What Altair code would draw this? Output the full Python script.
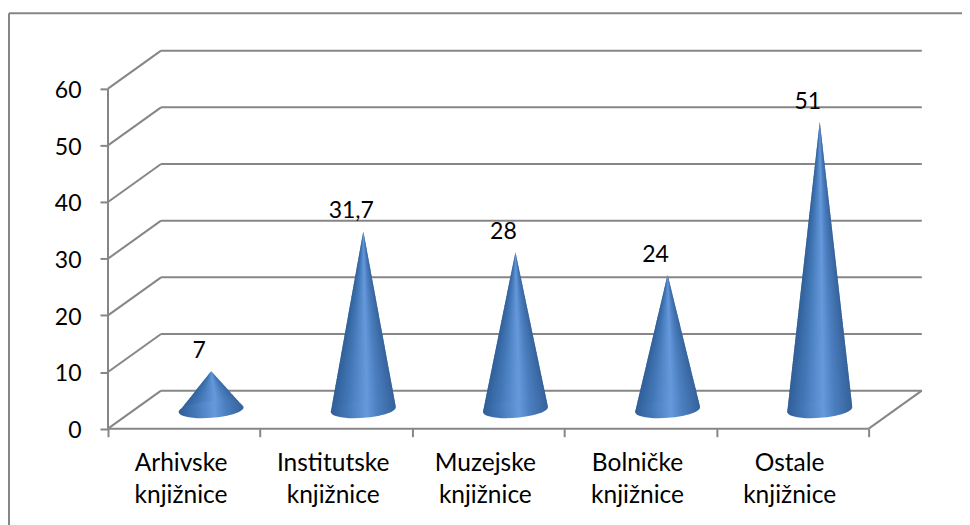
import altair as alt
import pandas as pd

categories = ["Arhivske\nknjižnice", "Institutske\nknjižnice", "Muzejske\nknjižnice", "Bolničke\nknjižnice", "Ostale\nknjižnice"]
values = [7, 31.7, 28, 24, 51]
value_labels = ["7", "31,7", "28", "24", "51"]
y_ticks = [0, 10, 20, 30, 40, 50, 60]
x_ticks = [0, 1, 2, 3, 4, 5]

# the page fits a 962-unit wide svg into 954 px: all pixel sizes are scaled by K
K = 962 / 954

# pseudo-3D geometry expressed in axis units
PX_X = 152.0
PX_Y = 340 / 60
DEPTH_X = 53 / PX_X
DEPTH_Y = 38 / PX_Y
X_MAX = 5 + DEPTH_X
Y_MAX = 378.5 / PX_Y
CONE_X = 0.678
CONE_HALF = 32.5 / PX_X
TIP_LIFT = 3.16
BASE_LIFT = 3.35
LEFT_CORNER = 2.91
RIGHT_CORNER = 3.79
SLICE_PX = 1.5

shade_o = [0, 0.25, 0.55, 0.72, 1]
shade_c = ["#305e97", "#4278b8", "#6699dc", "#4c7fc0", "#34619a"]
GRAY = "#868686"
FONT = "Lato"
fill_grad = alt.LinearGradient(
    gradient="linear", x1=0, x2=1, y1=0, y2=0,
    stops=[alt.GradientStop(offset=o, color=c) for o, c in zip(shade_o, shade_c)],
)


def right_edge(tip, lvl):
    if lvl >= RIGHT_CORNER:
        return CONE_HALF * (tip - lvl) / (tip - RIGHT_CORNER)
    return CONE_HALF * (1 - 0.5 * (RIGHT_CORNER - lvl) / (RIGHT_CORNER - LEFT_CORNER))


rows = []
for i, v in enumerate(values):
    xc = i + CONE_X
    tip = v + TIP_LIFT
    n = int((tip - LEFT_CORNER) * PX_Y / SLICE_PX)
    step = (tip - LEFT_CORNER) / n
    for k in range(n):
        top = tip - k * step
        bottom = max(LEFT_CORNER, top - step - 1 / PX_Y)
        for lvl in (top, bottom):
            rows.append(dict(
                key=f"{i}-{k:04d}", y=lvl,
                xl=xc - CONE_HALF * (tip - lvl) / (tip - LEFT_CORNER),
                xr=xc + right_edge(tip, lvl),
            ))
slices = pd.DataFrame(rows)

cones = pd.DataFrame({
    "xc": [i + CONE_X for i in range(5)],
    "base": [BASE_LIFT] * 5,
    "tip": [v + TIP_LIFT for v in values],
    "lx": [i + CONE_X - 12 / PX_X for i in range(5)],
    "label": value_labels,
    "cat": categories,
    "cx": [i + 0.48 for i in range(5)],
})

xs = alt.Scale(domain=[0, X_MAX], nice=False, zero=False)
ys = alt.Scale(domain=[0, Y_MAX], nice=False, zero=False)

back = pd.DataFrame({"y": [v + DEPTH_Y for v in y_ticks], "x": [DEPTH_X] * 7, "x2": [X_MAX] * 7})
back["y2"] = back["y"]
diag = pd.DataFrame({"x": [0] * 7, "x2": [DEPTH_X] * 7, "y": y_ticks, "y2": [v + DEPTH_Y for v in y_ticks]})
edge = pd.DataFrame({"x": [5, 0, 0], "x2": [X_MAX, 5, 0], "y": [0, 0, 0], "y2": [DEPTH_Y, 0, 60]})

rule = dict(color=GRAY, strokeWidth=2 * K)

axes = alt.Chart(pd.DataFrame({"x": x_ticks, "y": [0] * 6})).mark_point(opacity=0).encode(
    x=alt.X("x:Q", scale=xs, title=None,
            axis=alt.Axis(values=x_ticks, labels=False, domain=False, grid=False, tickSize=8 * K,
                          tickWidth=2 * K, tickColor=GRAY)),
    y=alt.Y("y:Q", scale=ys, title=None,
            axis=alt.Axis(values=y_ticks, domain=False, grid=False, tickSize=8 * K, tickWidth=2 * K,
                          tickColor=GRAY, labelFont=FONT, labelFontSize=23 * K, labelColor="black",
                          labelPadding=19 * K, labelOffset=2)),
)


def rules(df):
    return alt.Chart(df).mark_rule(**rule).encode(
        x=alt.X("x:Q", scale=xs), x2="x2:Q",
        y=alt.Y("y:Q", scale=ys), y2="y2:Q",
    )


def px_x(p):
    return alt.value((p - 108) * K)


def px_y(p):
    return alt.value((p - 50) * K)


seed = pd.DataFrame({"a": [0]})
frame_top = alt.Chart(seed).mark_rule(**rule).encode(x=px_x(9), x2=px_x(972), y=px_y(13), y2=px_y(13))
frame_left = alt.Chart(seed).mark_rule(**rule).encode(x=px_x(9), x2=px_x(9), y=px_y(13), y2=px_y(530))

ellipse = alt.Chart(cones).mark_point(
    filled=True, opacity=1, size=(65 * K) ** 2, angle=355.6,
    shape="M-1,0 A1,0.25 0 1,0 1,0 A1,0.25 0 1,0 -1,0 Z",
    fill=fill_grad,
).encode(x=alt.X("xc:Q", scale=xs), y=alt.Y("base:Q", scale=ys))

cone = alt.Chart(slices).mark_area(orient="horizontal", opacity=1, fill=fill_grad).encode(
    y=alt.Y("y:Q", scale=ys),
    x=alt.X("xl:Q", scale=xs),
    x2="xr:Q",
    detail="key:N",
)

data_labels = alt.Chart(cones).mark_text(font=FONT, fontSize=23 * K, color="black", dy=-20 * K).encode(
    x=alt.X("lx:Q", scale=xs), y=alt.Y("tip:Q", scale=ys), text="label:N"
)

cat_labels = alt.Chart(cones).mark_text(
    font=FONT, fontSize=24.5 * K, color="black", lineBreak="\n", lineHeight=32 * K,
    align="center", baseline="middle",
).encode(x=alt.X("cx:Q", scale=xs), y=px_y(464), text="cat:N")

W = 813.8 * K
H = 378.5 * K
LEFT = 100 * K
TOP = 42 * K - 2

chart = alt.layer(
    rules(back), rules(diag), rules(edge), axes, cone, ellipse, data_labels, cat_labels, frame_top, frame_left
).properties(
    width=W, height=H,
    padding={"left": LEFT, "top": TOP, "right": 962 - LEFT - W, "bottom": 517 * K - TOP - H},
    autosize=alt.AutoSizeParams(type="none"),
).configure_view(stroke=None)

chart.save("out.html", embed_options={"renderer": "svg", "actions": False})
